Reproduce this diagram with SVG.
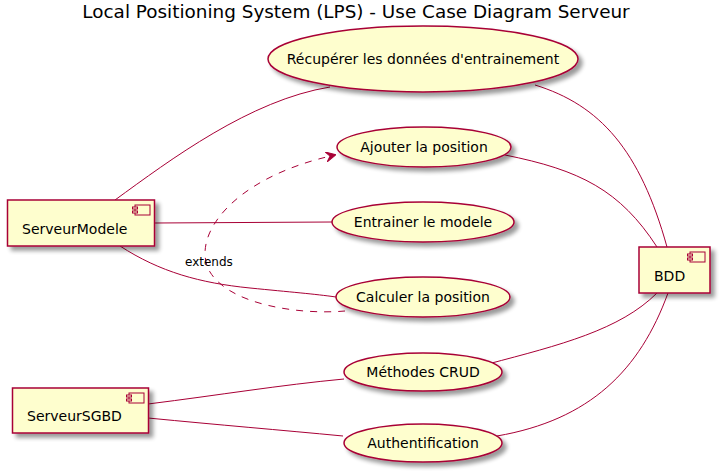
<svg xmlns="http://www.w3.org/2000/svg" width="724" height="473" viewBox="0 0 724 473">
<defs>
<filter id="sh" x="-10%" y="-10%" width="130%" height="140%">
<feGaussianBlur in="SourceAlpha" stdDeviation="2"/>
<feOffset dx="4" dy="4" result="b"/>
<feComponentTransfer><feFuncA type="linear" slope="0.4"/></feComponentTransfer>
<feMerge><feMergeNode/><feMergeNode in="SourceGraphic"/></feMerge>
</filter>
<marker id="arr" viewBox="0 0 10 10" refX="9" refY="5" markerWidth="10" markerHeight="10" orient="auto" markerUnits="userSpaceOnUse">
<path d="M0,0 L10,5 L0,10 L4,5 Z" fill="#A80036" stroke="#A80036" stroke-width="1"/>
</marker>
</defs>
<style>
.n{fill:#FEFECE;stroke:#A80036;stroke-width:1.5;filter:url(#sh)}
.ic{fill:#FEFECE;stroke:#A80036;stroke-width:1}
.t{font-family:"DejaVu Sans",sans-serif;font-size:14px;fill:#000}
.c{fill:none;stroke:#A80036;stroke-width:1}
.d{fill:none;stroke:#A80036;stroke-width:1;stroke-dasharray:7,7}
</style>
<rect width="724" height="473" fill="#fff"/>
<text x="356" y="18" text-anchor="middle" font-family="DejaVu Sans,sans-serif" font-size="18.4" fill="#000">Local Positioning System (LPS) - Use Case Diagram Serveur</text>
<g id="connectors">
<path class="c" d="M115,200 C170,160 250,100 330,87"/>
<line class="c" x1="155" y1="223" x2="332" y2="222"/>
<path class="c" d="M120,246 C160,272 200,283 250,288 C290,292 315,294 336,297"/>
<path class="d" d="M345,311 C300,315 230,305 210,272 C190,238 230,178 335,155" marker-end="url(#arr)"/>
<text class="t" x="185" y="266" style="font-size:12px">extends</text>
<path class="c" d="M505,155 C580,170 620,190 657,247"/>
<path class="c" d="M535,85 C600,105 640,150 667,247"/>
<path class="c" d="M488,364 C560,345 620,330 657,293"/>
<path class="c" d="M497,436 C590,420 640,370 668,293"/>
<path class="c" d="M148,404 C220,395 280,385 344,379"/>
<path class="c" d="M148,418 C220,425 280,430 343,436"/>
</g>
<g id="ServeurModele">
<rect class="n" x="7.5" y="200" width="147" height="46"/>
<rect class="ic" x="135" y="205" width="15" height="10"/>
<rect class="ic" x="132.5" y="207" width="5" height="2"/>
<rect class="ic" x="132.5" y="211" width="5" height="2"/>
<text class="t" x="22" y="234">ServeurModele</text>
</g>
<g id="ServeurSGBD">
<rect class="n" x="12.5" y="388" width="136" height="45"/>
<rect class="ic" x="129" y="393" width="15" height="10"/>
<rect class="ic" x="126.5" y="395" width="5" height="2"/>
<rect class="ic" x="126.5" y="399" width="5" height="2"/>
<text class="t" x="27" y="421">ServeurSGBD</text>
</g>
<g id="BDD">
<rect class="n" x="639" y="247" width="71" height="46"/>
<rect class="ic" x="690" y="252" width="15" height="10"/>
<rect class="ic" x="687.5" y="254" width="5" height="2"/>
<rect class="ic" x="687.5" y="258" width="5" height="2"/>
<text class="t" x="654" y="281">BDD</text>
</g>
<g id="Recuperer">
<ellipse class="n" cx="423" cy="59" rx="155" ry="33"/>
<text class="t" x="423" y="64" text-anchor="middle">Récupérer les données d'entrainement</text>
</g>
<g id="Ajouter">
<ellipse class="n" cx="424" cy="147" rx="87" ry="20"/>
<text class="t" x="424" y="152" text-anchor="middle">Ajouter la position</text>
</g>
<g id="Entrainer">
<ellipse class="n" cx="423" cy="222" rx="91" ry="20"/>
<text class="t" x="423" y="227" text-anchor="middle">Entrainer le modele</text>
</g>
<g id="Calculer">
<ellipse class="n" cx="423" cy="297" rx="87" ry="20"/>
<text class="t" x="423" y="302" text-anchor="middle">Calculer la position</text>
</g>
<g id="CRUD">
<ellipse class="n" cx="423" cy="372" rx="79" ry="19"/>
<text class="t" x="423" y="377" text-anchor="middle">Méthodes CRUD</text>
</g>
<g id="Auth">
<ellipse class="n" cx="423" cy="443" rx="79" ry="19"/>
<text class="t" x="423" y="448" text-anchor="middle">Authentification</text>
</g>
</svg>
